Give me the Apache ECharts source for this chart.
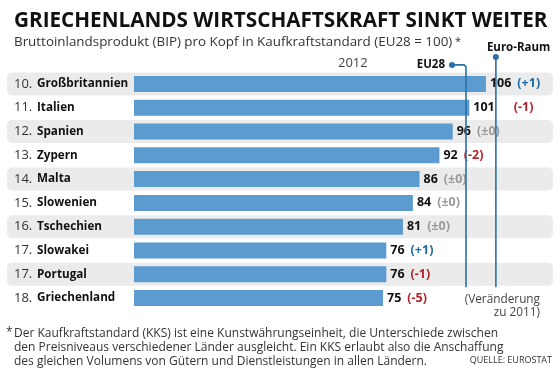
<!DOCTYPE html>
<html><head><meta charset="utf-8">
<script src="https://cdn.jsdelivr.net/npm/echarts@6/dist/echarts.min.js"></script>
<style>html,body{margin:0;padding:0;background:#fff}#c{width:560px;height:373px}</style>
</head><body><div id="c"></div>
<script>
const ranks = ['10.','11.','12.','13.','14.','15.','16.','17.','17.','18.'];
const countries = ['Großbritannien','Italien','Spanien','Zypern','Malta','Slowenien','Tschechien','Slowakei','Portugal','Griechenland'];
const values2012 = [106,101,96,92,86,84,81,76,76,75];
const changes = [1,-1,0,-2,0,0,0,1,-1,-5];
const refNames = ['EU28','Euro-Raum'];
const refValues = [100,109];

const FONT = '"Open Sans", "Noto Sans", sans-serif';
const BAR = '#5b9bcf', LINE = '#2a70aa', BLUE = '#1d6aa3', RED = '#b3232b', GRAY = '#9a9a9a';
const extraGap = {1: 13};

function chgText(c){ return c===0 ? '(±0)' : (c>0 ? '(+'+c+')' : '('+c+')'); }
function chgKey(c){ return c===0 ? 'cz' : (c>0 ? 'cp' : 'cn'); }

const chart = echarts.init(document.getElementById('c'), null, {renderer:'canvas'});

const barData = values2012.map((v,i)=>({
  value: v,
  label: { formatter: '{v|'+v+'}{g'+(extraGap[i]?'x':'')+'|}{'+chgKey(changes[i])+'|'+chgText(changes[i])+'}' }
}));

const bandData = countries.map((c,i)=>[0,i]).filter((d,i)=>i%2===0);
const lastBandIdx = 8;

chart.setOption({
  animation:false,
  textStyle:{fontFamily:FONT},
  grid:{left:134,right:11,top:72,bottom:63,containLabel:false},
  xAxis:{type:'value',min:0,max:125,show:false},
  yAxis:{type:'category',inverse:true,data:countries,
    axisLine:{show:false},axisTick:{show:false},splitLine:{show:false},
    axisLabel:{align:'left',margin:120,
      formatter:(val,idx)=>'{r|'+ranks[idx]+'}{n|'+val+'}',
      rich:{
        r:{fontFamily:FONT,fontSize:13,color:'#333',width:23},
        n:{fontFamily:FONT,fontSize:11.7,fontWeight:'bold',color:'#111'}
      }}
  },
  series:[
    {type:'custom',z:0,silent:true,data:bandData,encode:{x:0,y:1},clip:false,
     renderItem:(params,api)=>{
       const p = api.coord([0,api.value(1)]);
       const h = api.size([0,1])[1];
       return {type:'rect',shape:{x:7,y:p[1]-h/2+0.4,width:546,height:h-0.8,r:5},style:{fill:'#ebebeb'}};
     }},
    {type:'bar',z:2,data:barData,barWidth:16,itemStyle:{color:BAR},
     label:{show:true,position:'right',distance:4,
       rich:{
         v:{fontFamily:FONT,fontSize:12.5,fontWeight:'bold',color:'#111'},
         g:{width:6},
         gx:{width:6+extraGap[1]},
         cp:{fontFamily:FONT,fontSize:12.5,fontWeight:'bold',color:BLUE},
         cn:{fontFamily:FONT,fontSize:12.5,fontWeight:'bold',color:RED},
         cz:{fontFamily:FONT,fontSize:12.5,fontWeight:'bold',color:GRAY}
       }}},
    {type:'custom',z:3,silent:true,clip:false,
     data:refValues.map((v,i)=>[v,0,i]),encode:{x:0,y:1},
     renderItem:(params,api)=>{
       const i = api.value(2);
       const top = api.coord([api.value(0),0]);
       const bot = api.coord([api.value(0),lastBandIdx]);
       const h = api.size([0,1])[1];
       const x = top[0], yBot = bot[1]+h/2+1;
       const children = [];
       if(i===0){
         const yTop = top[1]-19;
         children.push({type:'polyline',shape:{points:[[x-14,yTop],[x-2,yTop],[x,yTop+2],[x,yBot]]},style:{stroke:LINE,lineWidth:1.6,fill:null}});
         children.push({type:'circle',shape:{cx:x-14,cy:yTop,r:3},style:{fill:LINE}});
         children.push({type:'text',style:{text:refNames[i],x:x-21,y:yTop,align:'right',verticalAlign:'middle',font:'bold 11.5px '+FONT,fill:'#111'}});
       } else {
         const yTop = top[1]-27;
         children.push({type:'line',shape:{x1:x,y1:yTop,x2:x,y2:yBot},style:{stroke:LINE,lineWidth:1.6}});
         children.push({type:'circle',shape:{cx:x,cy:yTop,r:3},style:{fill:LINE}});
         children.push({type:'text',style:{text:refNames[i],x:x-9,y:yTop-9,align:'left',verticalAlign:'middle',font:'bold 11.5px '+FONT,fill:'#111'}});
       }
       return {type:'group',children};
     }}
  ],
  graphic:[
    {type:'text',left:14,top:11,style:{text:'GRIECHENLANDS WIRTSCHAFTSKRAFT SINKT WEITER',font:'bold 20.7px '+FONT,fill:'#111'}},
    {type:'text',left:14,top:36,style:{text:'Bruttoinlandsprodukt (BIP) pro Kopf in Kaufkraftstandard (EU28 = 100)',font:'13.4px '+FONT,fill:'#333'}},
    {type:'text',left:455,top:36,style:{text:'*',font:'11px '+FONT,fill:'#333'}},
    {type:'text',left:338,top:57,style:{text:'2012',font:'13px '+FONT,fill:'#444'}},
    {type:'text',right:20,top:294,style:{text:'(Veränderung',font:'11.8px '+FONT,fill:'#444',align:'right'}},
    {type:'text',right:20,top:307,style:{text:'zu 2011)',font:'11.8px '+FONT,fill:'#444',align:'right'}},
    {type:'text',left:6,top:327,style:{text:'*',font:'12px '+FONT,fill:'#333'}},
    {type:'text',left:14,top:327,style:{text:'Der Kaufkraftstandard (KKS) ist eine Kunstwährungseinheit, die Unterschiede zwischen\nden Preisniveaus verschiedener Länder ausgleicht. Ein KKS erlaubt also die Anschaffung\ndes gleichen Volumens von Gütern und Dienstleistungen in allen Ländern.',font:'12px '+FONT,fill:'#333',lineHeight:14}},
    {type:'text',right:8,top:356,style:{text:'QUELLE: EUROSTAT',font:'9px '+FONT,fill:'#333'}}
  ]
});
</script></body></html>
